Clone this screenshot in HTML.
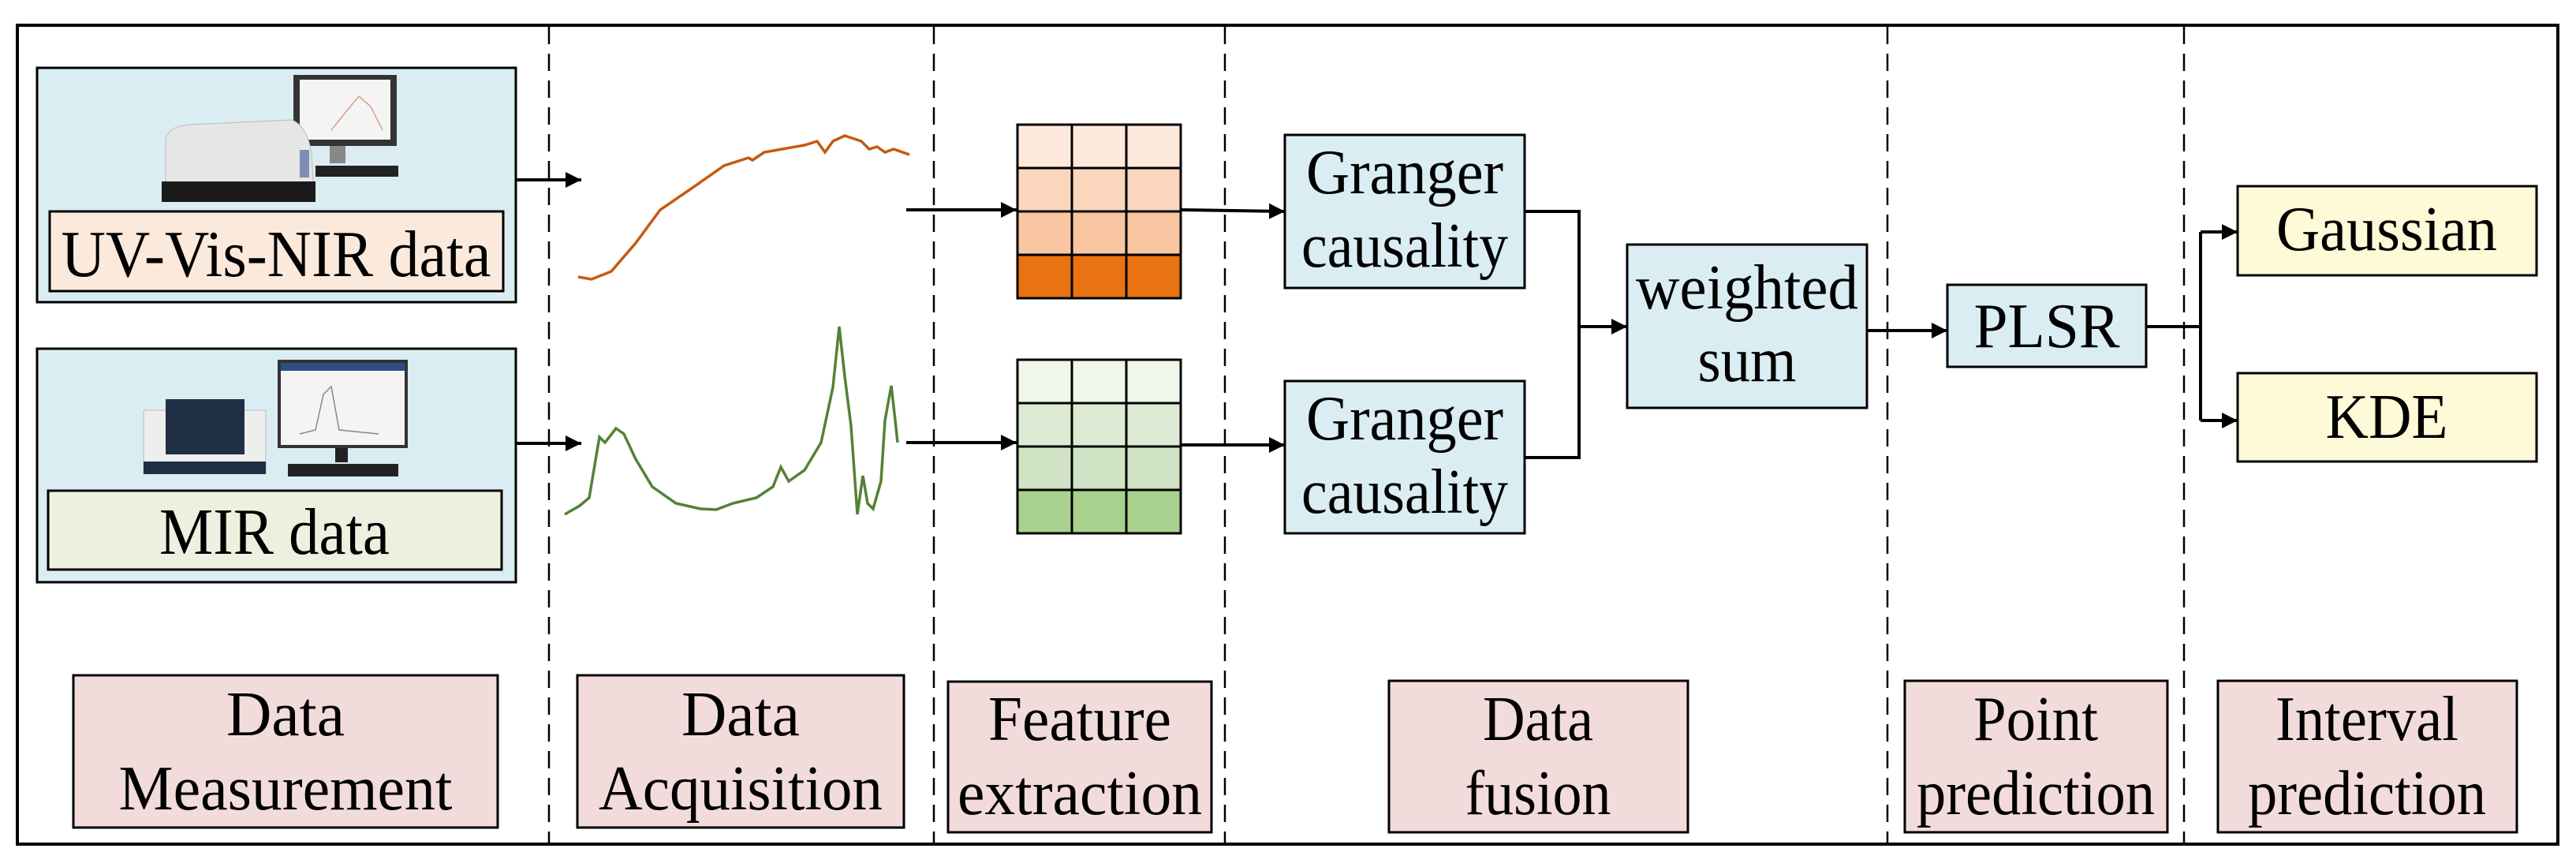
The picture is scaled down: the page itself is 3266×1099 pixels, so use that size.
<!DOCTYPE html>
<html><head><meta charset="utf-8"><style>
html,body{margin:0;padding:0;background:#fff;}
svg{display:block;}
svg text{font-family:"Liberation Serif","Times New Roman","DejaVu Serif",serif;fill:#000;}
</style></head><body>
<svg width="3266" height="1099" viewBox="0 0 3266 1099" xmlns="http://www.w3.org/2000/svg" font-family="Liberation Serif, serif">
<defs>
<marker id="ah" viewBox="0 0 10 10" refX="10" refY="5" markerWidth="5" markerHeight="5" orient="auto" markerUnits="strokeWidth"><path d="M0,0 L10,5 L0,10 z" fill="#000"/></marker>
</defs>
<rect width="3266" height="1099" fill="#fff"/>
<rect x="22" y="32" width="3221" height="1038" fill="none" stroke="#000" stroke-width="4"/>
<g stroke="#000" stroke-width="2.5" stroke-dasharray="22,12">
<line x1="696" y1="34" x2="696" y2="1068"/>
<line x1="1184" y1="34" x2="1184" y2="1068"/>
<line x1="1553" y1="34" x2="1553" y2="1068"/>
<line x1="2393" y1="34" x2="2393" y2="1068"/>
<line x1="2769" y1="34" x2="2769" y2="1068"/>
</g>
<rect x="47" y="86" width="607" height="297" fill="#daedf3" stroke="#000" stroke-width="3"/>
<rect x="372" y="95" width="131" height="90" fill="#333"/>
<rect x="380" y="101" width="115" height="76" fill="#f4f4f4"/>
<polyline points="420,165 440,140 455,122 470,135 485,165" fill="none" stroke="#d9a080" stroke-width="1.5"/>
<rect x="418" y="185" width="20" height="22" fill="#888"/>
<rect x="400" y="210" width="105" height="14" fill="#222"/>
<path d="M210,175 Q215,160 240,158 L370,152 Q390,160 395,195 L398,250 L210,255 Z" fill="#e6e6e6" stroke="#bbb"/>
<rect x="205" y="230" width="195" height="26" fill="#1a1a1a"/>
<rect x="380" y="190" width="12" height="35" fill="#7d8db5"/>
<rect x="63" y="268" width="575" height="101" fill="#fbe9dc" stroke="#000" stroke-width="3"/>
<text x="350" y="350" font-size="84" text-anchor="middle" textLength="545" lengthAdjust="spacingAndGlyphs">UV-Vis-NIR data</text>
<rect x="47" y="442" width="607" height="296" fill="#daedf3" stroke="#000" stroke-width="3"/>
<rect x="352" y="456" width="165" height="112" fill="#333"/>
<rect x="356" y="470" width="157" height="94" fill="#f4f4f4"/>
<rect x="356" y="460" width="157" height="10" fill="#2d4f80"/>
<polyline points="380,550 400,545 410,500 420,490 430,545 480,550" fill="none" stroke="#888" stroke-width="1.5"/>
<rect x="425" y="568" width="16" height="18" fill="#222"/>
<rect x="365" y="588" width="140" height="16" fill="#222"/>
<rect x="182" y="520" width="155" height="80" fill="#eeeeee" stroke="#bbb"/>
<rect x="210" y="506" width="100" height="70" fill="#1f2f45"/>
<rect x="182" y="585" width="155" height="16" fill="#1f2f45"/>
<rect x="61" y="622" width="575" height="100" fill="#ebf1de" stroke="#000" stroke-width="3"/>
<text x="348" y="702" font-size="84" text-anchor="middle" textLength="292" lengthAdjust="spacingAndGlyphs">MIR data</text>
<g stroke="#000" stroke-width="4" fill="none">
<line x1="654" y1="228" x2="737" y2="228" marker-end="url(#ah)"/>
<line x1="654" y1="562" x2="737" y2="562" marker-end="url(#ah)"/>
<line x1="1149" y1="266" x2="1289" y2="266" marker-end="url(#ah)"/>
<line x1="1149" y1="561" x2="1289" y2="561" marker-end="url(#ah)"/>
<line x1="1497" y1="266" x2="1629" y2="268" marker-end="url(#ah)"/>
<line x1="1497" y1="564" x2="1629" y2="564" marker-end="url(#ah)"/>
<polyline points="1933,268 2002,268 2002,580 1933,580"/>
<line x1="2002" y1="414" x2="2063" y2="414" marker-end="url(#ah)"/>
<line x1="2367" y1="419" x2="2469" y2="419" marker-end="url(#ah)"/>
<line x1="2721" y1="414" x2="2790" y2="414"/>
<line x1="2790" y1="294" x2="2790" y2="533"/>
<line x1="2790" y1="294" x2="2837" y2="294" marker-end="url(#ah)"/>
<line x1="2790" y1="533" x2="2837" y2="533" marker-end="url(#ah)"/>
</g>
<polyline fill="none" stroke="#c55a11" stroke-width="3.5" points="733,351 750,354 775,344 806,308 837,266 878,238 918,210 949,200 954,203 969,193 1020,184 1036,179 1046,193 1056,179 1071,172 1092,179 1102,189 1112,186 1122,193 1133,189 1153,196"/>
<polyline fill="none" stroke="#548235" stroke-width="3.5" points="716,652 735,641 747,631 760,554 767,561 781,543 791,550 806,582 827,617 857,638 888,645 908,646 929,638 959,631 980,617 990,592 1000,610 1020,596 1041,561 1056,491 1064,414 1071,477 1079,540 1087,652 1094,603 1100,638 1107,645 1117,610 1122,533 1130,489 1135,533 1138,561"/>
<g stroke="#000" stroke-width="3">
<rect x="1290" y="158" width="207" height="55" fill="#fce9db"/>
<rect x="1290" y="213" width="207" height="55" fill="#f9d6bc"/>
<rect x="1290" y="268" width="207" height="55" fill="#f8c6a0"/>
<rect x="1290" y="323" width="207" height="55" fill="#e97213"/>
<line x1="1359" y1="158" x2="1359" y2="378"/><line x1="1428" y1="158" x2="1428" y2="378"/>
<rect x="1290" y="456" width="207" height="55" fill="#eff6ea"/>
<rect x="1290" y="511" width="207" height="55" fill="#deebd4"/>
<rect x="1290" y="566" width="207" height="55" fill="#d0e3c4"/>
<rect x="1290" y="621" width="207" height="55" fill="#a9d18e"/>
<line x1="1359" y1="456" x2="1359" y2="676"/><line x1="1428" y1="456" x2="1428" y2="676"/>
</g>
<g stroke="#000" stroke-width="3" fill="#daedf3">
<rect x="1629" y="171" width="304" height="194"/>
<rect x="1629" y="483" width="304" height="193"/>
<rect x="2063" y="310" width="304" height="207"/>
<rect x="2469" y="361" width="252" height="104"/>
</g>
<g font-size="80" text-anchor="middle">
<text x="1781" y="245" textLength="250" lengthAdjust="spacingAndGlyphs">Granger</text>
<text x="1781" y="338" textLength="262" lengthAdjust="spacingAndGlyphs">causality</text>
<text x="1781" y="557" textLength="250" lengthAdjust="spacingAndGlyphs">Granger</text>
<text x="1781" y="650" textLength="262" lengthAdjust="spacingAndGlyphs">causality</text>
<text x="2215" y="391" textLength="282" lengthAdjust="spacingAndGlyphs">weighted</text>
<text x="2215" y="483" textLength="125" lengthAdjust="spacingAndGlyphs">sum</text>
<text x="2595" y="440" textLength="185" lengthAdjust="spacingAndGlyphs">PLSR</text>
<text x="3026" y="317" textLength="280" lengthAdjust="spacingAndGlyphs">Gaussian</text>
<text x="3026" y="555" textLength="155" lengthAdjust="spacingAndGlyphs">KDE</text>
</g>
<g stroke="#000" stroke-width="3" fill="#fef9d6">
<rect x="2837" y="236" width="379" height="113"/>
<rect x="2837" y="473" width="379" height="112"/>
</g>
<g font-size="80" text-anchor="middle">
<text x="3026" y="317" textLength="280" lengthAdjust="spacingAndGlyphs">Gaussian</text>
<text x="3026" y="555" textLength="155" lengthAdjust="spacingAndGlyphs">KDE</text>
</g>
<g stroke="#000" stroke-width="3" fill="#f2dcdb">
<rect x="93" y="856" width="538" height="193"/>
<rect x="732" y="856" width="414" height="193"/>
<rect x="1202" y="864" width="334" height="191"/>
<rect x="1761" y="863" width="379" height="192"/>
<rect x="2415" y="863" width="333" height="192"/>
<rect x="2812" y="863" width="379" height="192"/>
</g>
<g font-size="80" text-anchor="middle">
<text x="362" y="932" textLength="150" lengthAdjust="spacingAndGlyphs">Data</text>
<text x="362" y="1026" textLength="423" lengthAdjust="spacingAndGlyphs">Measurement</text>
<text x="939" y="932" textLength="150" lengthAdjust="spacingAndGlyphs">Data</text>
<text x="939" y="1026" textLength="360" lengthAdjust="spacingAndGlyphs">Acquisition</text>
<text x="1369" y="938" textLength="232" lengthAdjust="spacingAndGlyphs">Feature</text>
<text x="1369" y="1032" textLength="310" lengthAdjust="spacingAndGlyphs">extraction</text>
<text x="1950" y="938" textLength="140" lengthAdjust="spacingAndGlyphs">Data</text>
<text x="1950" y="1032" textLength="185" lengthAdjust="spacingAndGlyphs">fusion</text>
<text x="2581" y="938" textLength="158" lengthAdjust="spacingAndGlyphs">Point</text>
<text x="2581" y="1032" textLength="302" lengthAdjust="spacingAndGlyphs">prediction</text>
<text x="3001" y="938" textLength="232" lengthAdjust="spacingAndGlyphs">Interval</text>
<text x="3001" y="1032" textLength="302" lengthAdjust="spacingAndGlyphs">prediction</text>
</g>
</svg>
</body></html>
